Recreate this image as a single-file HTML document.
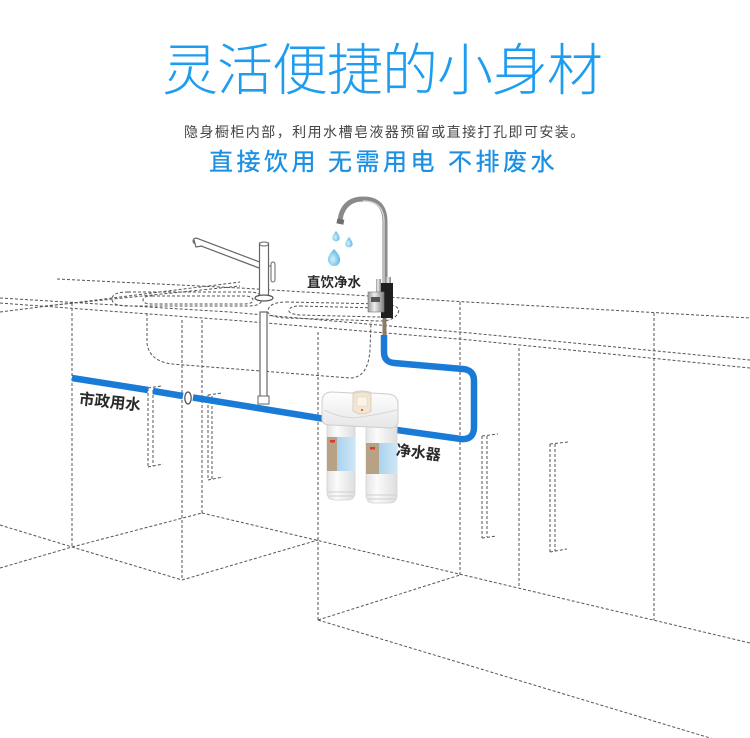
<!DOCTYPE html>
<html>
<head>
<meta charset="utf-8">
<style>
html,body{margin:0;padding:0;background:#fff;}
#wrap{position:relative;width:750px;height:738px;overflow:hidden;background:#fff;}
svg{position:absolute;left:0;top:0;}
.t{position:absolute;white-space:nowrap;line-height:1;font-family:"Liberation Sans","Noto Sans CJK SC",sans-serif;}
</style>
</head>
<body>
<div id="wrap">
<svg width="750" height="738" viewBox="0 0 750 738">
<defs>
  <linearGradient id="headg" x1="0" y1="0" x2="0" y2="1">
    <stop offset="0" stop-color="#ffffff"/>
    <stop offset="1" stop-color="#e6e6e6"/>
  </linearGradient>
  <linearGradient id="cang" x1="0" y1="0" x2="1" y2="0">
    <stop offset="0" stop-color="#e4e4e4"/>
    <stop offset="0.35" stop-color="#fbfbfb"/>
    <stop offset="1" stop-color="#dedede"/>
  </linearGradient>
  <linearGradient id="bluel" x1="0" y1="0" x2="1" y2="0">
    <stop offset="0" stop-color="#a9d3ee"/>
    <stop offset="1" stop-color="#cfe6f5"/>
  </linearGradient>
  <linearGradient id="chrome" x1="0" y1="0" x2="1" y2="0">
    <stop offset="0" stop-color="#9a9a9a"/>
    <stop offset="0.4" stop-color="#eeeeee"/>
    <stop offset="1" stop-color="#7e7e7e"/>
  </linearGradient>
  <radialGradient id="drop" cx="0.4" cy="0.6" r="0.6">
    <stop offset="0" stop-color="#d8f0fb"/>
    <stop offset="1" stop-color="#5db8e6"/>
  </radialGradient>
</defs>

<!-- dashed scene -->
<g fill="none" stroke="#555" stroke-width="1" stroke-dasharray="3 2">
  <!-- countertop -->
  <polyline points="0,298 230,312 470,333 750,360"/>
  <polyline points="0,303 230,320 470,340 750,368"/>
  <polyline points="57,279 240,288 450,301 750,318"/>
  <polyline points="0,312 72,303 240,282"/>
  <polyline points="45,306 240,286"/>
  <!-- basins -->
  <path d="M128,292 L248,292 Q262,292 262,299 Q262,306 248,306 L128,306 Q112,306 112,299 Q112,292 128,292Z"/>
  <path d="M152,296 L244,296 Q253,296 253,300 Q253,304 244,304 L152,304 Q143,304 143,300 Q143,296 152,296Z"/>
  <path d="M286,302 L385,304 Q402,306 398,313 Q394,321 380,321 L286,318 Q266,317 268,310 Q270,302 286,302Z"/>
  <path d="M300,306 L380,308 Q390,309 388,313 Q386,317 378,317 L300,315 Q288,314 289,310 Q290,306 300,306Z"/>
  <!-- sink bowl -->
  <path d="M147,313 L147,343 Q149,361 172,364 L350,378 Q368,378 370,350 L371,322"/>
  <!-- verticals -->
  <line x1="72" y1="303" x2="72" y2="547"/>
  <line x1="182" y1="320" x2="182" y2="580"/>
  <line x1="202" y1="320" x2="202" y2="513"/>
  <line x1="318" y1="332" x2="318" y2="620"/>
  <line x1="460" y1="302" x2="460" y2="575"/>
  <line x1="519" y1="348" x2="519" y2="588"/>
  <line x1="654" y1="313" x2="654" y2="620"/>
  <!-- handles -->
  <path d="M148,388 L148,467 M153,390 L153,466 M148,388 L161,386 M148,467 L163,464"/>
  <path d="M208,395 L208,480 M212,396 L212,479 M208,395 L222,393 M208,480 L223,477"/>
  <path d="M482,436 L482,538 M487,436 L487,537 M482,436 L498,434 M482,538 L497,536"/>
  <path d="M550,444 L550,552 M555,444 L555,551 M550,444 L568,442 M550,552 L567,549"/>
  <!-- floor -->
  <polyline points="0,525 72,547 182,580"/>
  <polyline points="0,568 72,547 202,513"/>
  <line x1="182" y1="580" x2="318" y2="540"/>
  <line x1="202" y1="513" x2="750" y2="643"/>
  <line x1="318" y1="620" x2="460" y2="575"/>
  <line x1="318" y1="620" x2="750" y2="750"/>
</g>

<!-- kitchen faucet (left) -->
<g>
  <path d="M196,241 L262,266" stroke="#666" stroke-width="7" stroke-linecap="round" fill="none"/>
  <path d="M196,241 L262,266" stroke="#fff" stroke-width="4.6" stroke-linecap="round" fill="none"/>
  <path d="M194,240 L196,247 L202,246" stroke="#666" stroke-width="1.2" fill="#fff"/>
  <rect x="259.5" y="243" width="9" height="54" fill="#fff" stroke="#666" stroke-width="1.2"/>
  <ellipse cx="264" cy="244" rx="4.5" ry="2" fill="#fff" stroke="#666" stroke-width="1"/>
  <rect x="271" y="262" width="4" height="20" rx="2" fill="#fff" stroke="#666" stroke-width="1"/>
  <line x1="268" y1="266" x2="271" y2="266" stroke="#666" stroke-width="1"/>
  <ellipse cx="264" cy="298" rx="9" ry="3" fill="#fff" stroke="#555" stroke-width="1.2"/>
  <rect x="260" y="312" width="7" height="86" fill="#fff" stroke="#666" stroke-width="1.2"/>
  <rect x="258" y="396" width="11" height="8" fill="#fff" stroke="#666" stroke-width="1"/>
</g>

<!-- pipes -->
<g stroke="#1a7bd6" stroke-width="6.5" fill="none" stroke-linecap="butt">
  <line x1="72" y1="378" x2="148" y2="390"/>
  <line x1="153" y1="391" x2="183" y2="396"/>
  <line x1="193" y1="397.5" x2="328" y2="419.5"/>
  <path d="M384,335 L384,352 Q384,362 394,363 L463,369 Q474,370 474,381 L474,427 Q474,440 461,439 L397,430"/>
</g>
<ellipse cx="188" cy="398" rx="3.2" ry="6" fill="#fff" stroke="#555" stroke-width="1.3"/>

<!-- purifier faucet -->
<g>
  <path d="M385,283 L385,222 Q385,199 363,199 Q346,199 341,215 L340,221" stroke="#8a8a8a" stroke-width="5" fill="none"/>
  <path d="M384,283 L384,222 Q384,201 363,201" stroke="#d9d9d9" stroke-width="1.3" fill="none"/>
  <rect x="337" y="219" width="7" height="5" fill="#6d6d6d" transform="rotate(12 340 221)"/>
  <rect x="376" y="279" width="5" height="14" fill="url(#chrome)"/>
  <rect x="386" y="277" width="5" height="8" fill="url(#chrome)"/>
  <rect x="381" y="283" width="12" height="35" fill="#1f1f1f"/>
  <rect x="368" y="292" width="16" height="20" fill="url(#chrome)" stroke="#777" stroke-width="0.6"/>
  <rect x="371" y="297" width="9" height="5" fill="#555"/>
  <rect x="382.5" y="318" width="4" height="17" fill="#8c7a64"/>
</g>
<!-- droplets -->
<path d="M336,231 Q331,237 333,240 Q336,243 339,240 Q341,237 336,231Z" fill="url(#drop)"/>
<path d="M349,237 Q344,243 346,246 Q349,249 352,246 Q354,243 349,237Z" fill="url(#drop)"/>
<path d="M334,249 Q327,256 328,261 Q330,266 334,266 Q339,266 340,261 Q341,256 334,249Z" fill="url(#drop)"/>

<!-- water filter -->
<g>
  <path d="M327,424 L355,424 L355,492 Q355,500 347,500 L335,500 Q327,500 327,492 Z" fill="url(#cang)" stroke="#d2d2d2" stroke-width="0.8"/>
  <rect x="327" y="437" width="10" height="34" fill="#b7a286"/>
  <rect x="337" y="437" width="18" height="34" fill="url(#bluel)"/>
  <rect x="330" y="440" width="5" height="2.5" fill="#d83a2e"/>
  <path d="M328,492 L354,492 M329,496 L353,496" stroke="#cfcfcf" stroke-width="1"/>
  <path d="M366,424 L397,424 L397,495 Q397,503 389,503 L374,503 Q366,503 366,495 Z" fill="url(#cang)" stroke="#d2d2d2" stroke-width="0.8"/>
  <rect x="366" y="443" width="13" height="31" fill="#b7a286"/>
  <rect x="379" y="443" width="18" height="31" fill="url(#bluel)"/>
  <rect x="370" y="447" width="5" height="2.5" fill="#d83a2e"/>
  <path d="M367,495 L396,495 M368,499 L395,499" stroke="#cfcfcf" stroke-width="1"/>
  <path d="M322,402 Q322,392 332,392 L352,393 Q362,389 372,393 L388,394 Q398,395 398,404 L398,421 Q398,428 390,428 L330,425 Q322,425 322,419 Z" fill="url(#headg)" stroke="#cdcdcd" stroke-width="1"/>
  <path d="M324,410 Q345,420 361,417 Q380,414 397,410" stroke="#d6d6d6" stroke-width="1" fill="none"/>
  <path d="M353,394 Q362,390 371,394 L371,411 Q362,417 353,411 Z" fill="#f1e5d3" stroke="#d8c8ae" stroke-width="0.8"/>
  <rect x="357" y="397" width="10" height="9" fill="#fbf4e8" stroke="#e0d2bc" stroke-width="0.5"/>
  <circle cx="362" cy="410" r="1" fill="#d83a2e"/>
</g>
</svg>

<div class="t" style="left:162px;top:43px;font-size:56px;letter-spacing:-1px;color:#1e9cf0;font-weight:300;">灵活便捷的小身材</div>
<div class="t" style="left:184px;top:125px;font-size:14px;letter-spacing:1.45px;color:#444;">隐身橱柜内部，利用水槽皂液器预留或直接打孔即可安装。</div>
<div class="t" style="left:209px;top:151px;font-size:24px;letter-spacing:3.5px;color:#1a8fe3;-webkit-text-stroke:0.3px #1a8fe3;">直接饮用</div>
<div class="t" style="left:328px;top:151px;font-size:24px;letter-spacing:3.5px;color:#1a8fe3;-webkit-text-stroke:0.3px #1a8fe3;">无需用电</div>
<div class="t" style="left:448px;top:151px;font-size:24px;letter-spacing:3.5px;color:#1a8fe3;-webkit-text-stroke:0.3px #1a8fe3;">不排废水</div>

<div class="t" style="left:307px;top:276px;font-size:13.5px;font-weight:bold;color:#2a2a2a;">直饮净水</div>
<div class="t" style="left:79px;top:392px;font-size:15.5px;font-weight:bold;color:#2a2a2a;transform:rotate(6deg);transform-origin:0 50%;">市政用水</div>
<div class="t" style="left:396px;top:443px;font-size:15px;font-weight:bold;color:#2a2a2a;transform:rotate(7deg);transform-origin:0 50%;">净水器</div>
</div>
</body>
</html>
